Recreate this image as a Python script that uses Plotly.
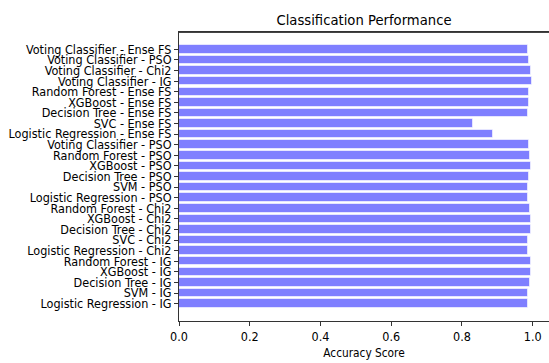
import plotly.graph_objects as go

labels = [
    "Logistic Regression - IG", "SVM - IG", "Decision Tree - IG", "XGBoost - IG", "Random Forest - IG",
    "Logistic Regression - Chi2", "SVC - Chi2", "Decision Tree - Chi2", "XGBoost - Chi2", "Random Forest - Chi2",
    "Logistic Regression - PSO", "SVM - PSO", "Decision Tree - PSO", "XGBoost - PSO", "Random Forest - PSO",
    "Voting Classifier - PSO",
    "Logistic Regression - Ense FS", "SVC - Ense FS", "Decision Tree - Ense FS", "XGBoost - Ense FS",
    "Random Forest - Ense FS",
    "Voting Classifier - IG", "Voting Classifier - Chi2", "Voting Classifier - PSO", "Voting Classifier - Ense FS",
]
scores = [
    0.986, 0.986, 0.992, 0.995, 0.995,
    0.986, 0.986, 0.995, 0.995, 0.992,
    0.986, 0.986, 0.990, 0.995, 0.992,
    0.990,
    0.888, 0.831, 0.986, 0.990,
    0.990,
    0.998, 0.994, 0.989, 0.986,
]
xticks = [0.0, 0.2, 0.4, 0.6, 0.8, 1.0]
positions = list(range(len(labels)))

FONT = "DejaVu Sans Condensed, DejaVu Sans, sans-serif"
PLOT_H = 363 - 32 - 42

fig = go.Figure(go.Bar(
    x=scores, y=positions, orientation="h", width=0.8,
    marker=dict(color="rgba(0,0,255,0.5)", line=dict(color="rgba(255,255,255,0.6)", width=1)),
))
fig.update_layout(
    width=549, height=363,
    margin=dict(l=179, r=0, t=32, b=42),
    paper_bgcolor="white", plot_bgcolor="white",
    font=dict(family=FONT, size=12.5, color="black"),
    title=dict(text="Classification Performance", x=(179 + 549) / 2 / 549, xanchor="center",
               y=1 - 20 / 363, yanchor="middle",
               font=dict(size=13.2, family="DejaVu Sans, sans-serif")),
    showlegend=False, bargap=0,
    shapes=[dict(type="line", xref="paper", yref="paper", x0=0, x1=1,
                 y0=1 - 0.5 / PLOT_H, y1=1 - 0.5 / PLOT_H,
                 layer="above", line=dict(color="#444", width=1))],
)
fig.update_xaxes(
    range=[0, 1.046], tickvals=xticks, ticktext=[f"{v:.1f}" for v in xticks],
    ticks="outside", ticklen=4, tickcolor="#333", showgrid=False, zeroline=False,
    showline=True, linecolor="#333", linewidth=1, mirror=True, automargin=False,
    title=dict(text="Accuracy Score", standoff=5, font=dict(size=11.8)),
)
fig.update_yaxes(
    range=[-1.64, 25.64], tickvals=positions, ticktext=labels,
    ticks="outside", ticklen=4, tickcolor="#333", showgrid=False, zeroline=False,
    showline=True, linecolor="#333", linewidth=1, mirror=True, automargin=False,
)
fig.write_html("out.html", config={"displayModeBar": False},
               post_script="document.body.style.margin='0px';")
